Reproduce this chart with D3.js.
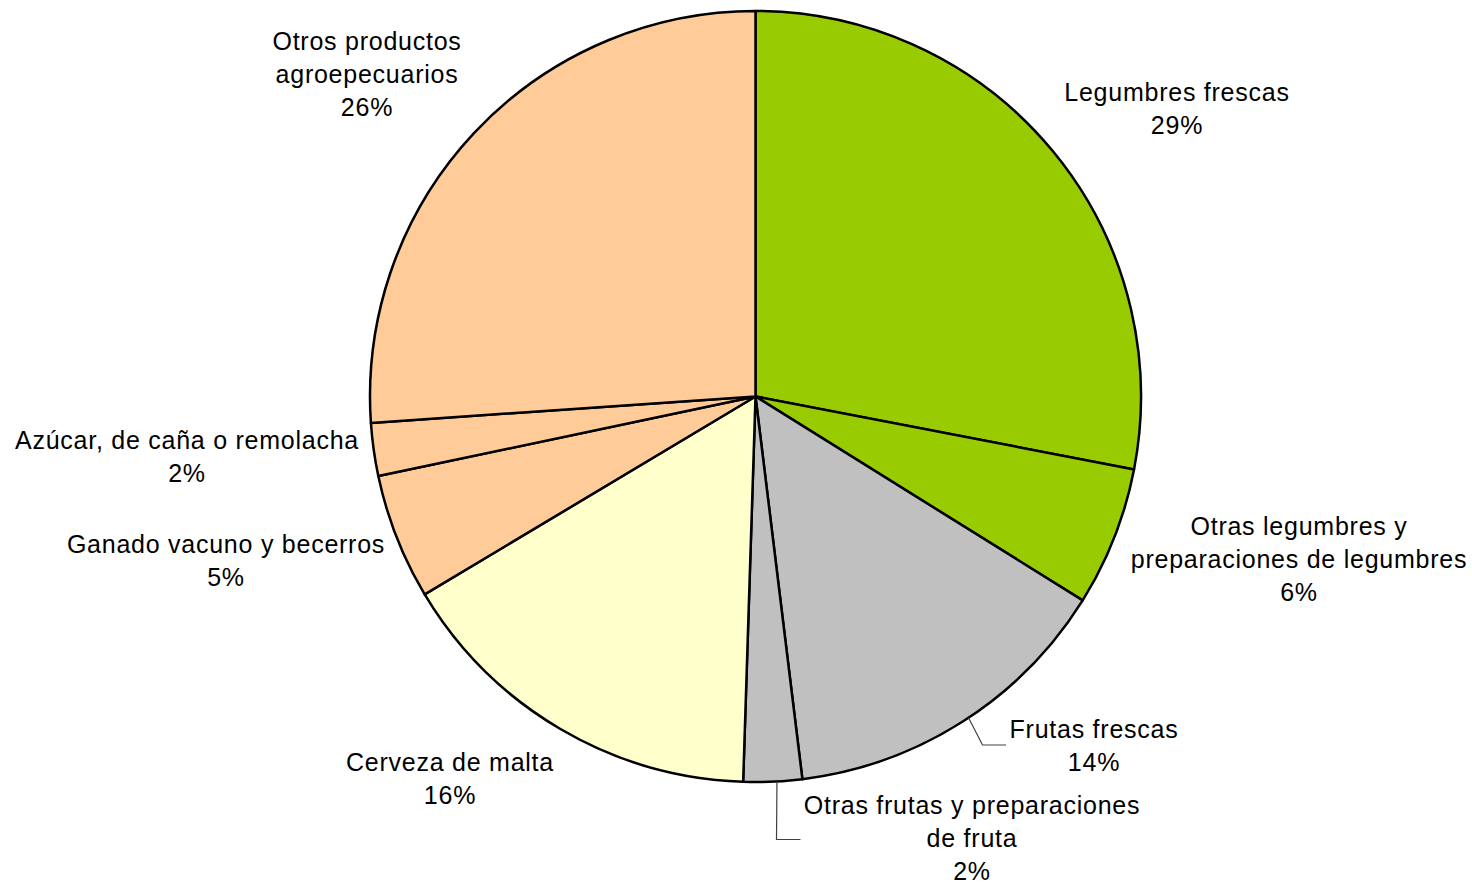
<!DOCTYPE html>
<html>
<head>
<meta charset="utf-8">
<script src="https://cdn.jsdelivr.net/npm/d3@7"></script>
<style>
  html, body { margin: 0; padding: 0; background: #fff; }
  svg { display: block; }
  text { font-family: "Liberation Sans", Arial, sans-serif; font-size: 25px; letter-spacing: 0.75px; fill: #000; }
</style>
</head>
<body>
<svg id="chart" width="1472" height="884"></svg>
<script>
// ---- data ----
const categories = [
  "Legumbres frescas",
  "Otras legumbres y preparaciones de legumbres",
  "Frutas frescas",
  "Otras frutas y preparaciones de fruta",
  "Cerveza de malta",
  "Ganado vacuno y becerros",
  "Azúcar, de caña o remolacha",
  "Otros productos agroepecuarios"
];
const shares = [28.03, 5.84, 14.19, 2.45, 15.91, 5.27, 2.22, 26.09];
const percentLabels = ["29%", "6%", "14%", "2%", "16%", "5%", "2%", "26%"];
const labelLines = [
  ["Legumbres frescas"],
  ["Otras legumbres y", "preparaciones de legumbres"],
  ["Frutas frescas"],
  ["Otras frutas y preparaciones", "de fruta"],
  ["Cerveza de malta"],
  ["Ganado vacuno y becerros"],
  ["Azúcar, de caña o remolacha"],
  ["Otros productos", "agroepecuarios"]
];
const colors = ["#99CC00", "#99CC00", "#C0C0C0", "#C0C0C0", "#FFFFCC", "#FFCC99", "#FFCC99", "#FFCC99"];

// ---- layout (not data) ----
const cx = 755.5, cy = 396.5, R = 385.5;
const lineH = 33;
const labelLayout = [
  [1177, 101],
  [1299, 535],
  [1094, 738],
  [972, 814],
  [450, 771],
  [226, 553],
  [187, 449],
  [367, 50]
];
const leaders = {
  2: { startFrac: 0.48, pts: [[982.5, 745], [1006, 745]] },
  3: { startFrac: 0.43, pts: [[776.5, 839.5], [800.5, 839.5]] }
};

const svg = d3.select("#chart");
const g = svg.append("g").attr("transform", `translate(${cx},${cy})`);

const pie = d3.pie().sort(null).value(d => d.v);
const data = pie(shares.map((v, i) => ({ v, i })));
const arc = d3.arc().innerRadius(0).outerRadius(R);

g.selectAll("path.slice")
  .data(data)
  .join("path")
  .attr("class", "slice")
  .attr("d", arc)
  .attr("fill", d => colors[d.data.i])
  .attr("stroke", "#000")
  .attr("stroke-width", 2.5)
  .attr("stroke-linejoin", "round");

// leader lines
data.forEach(d => {
  const L = leaders[d.data.i];
  if (!L) return;
  const a = d.startAngle + (d.endAngle - d.startAngle) * L.startFrac;
  const start = [cx + Math.sin(a) * R, cy - Math.cos(a) * R];
  svg.append("polyline")
    .attr("points", [start, ...L.pts].map(p => p.join(",")).join(" "))
    .attr("fill", "none")
    .attr("stroke", "#404040")
    .attr("stroke-width", 1.2);
});

// labels
const labels = svg.selectAll("text.lbl")
  .data(data)
  .join("text")
  .attr("class", "lbl")
  .attr("text-anchor", "middle");

labels.each(function (d) {
  const i = d.data.i;
  const [x, y0] = labelLayout[i];
  const lines = [...labelLines[i], percentLabels[i]];
  d3.select(this).selectAll("tspan")
    .data(lines)
    .join("tspan")
    .attr("x", x)
    .attr("y", (t, k) => y0 + k * lineH)
    .text(t => t);
});
</script>
</body>
</html>
